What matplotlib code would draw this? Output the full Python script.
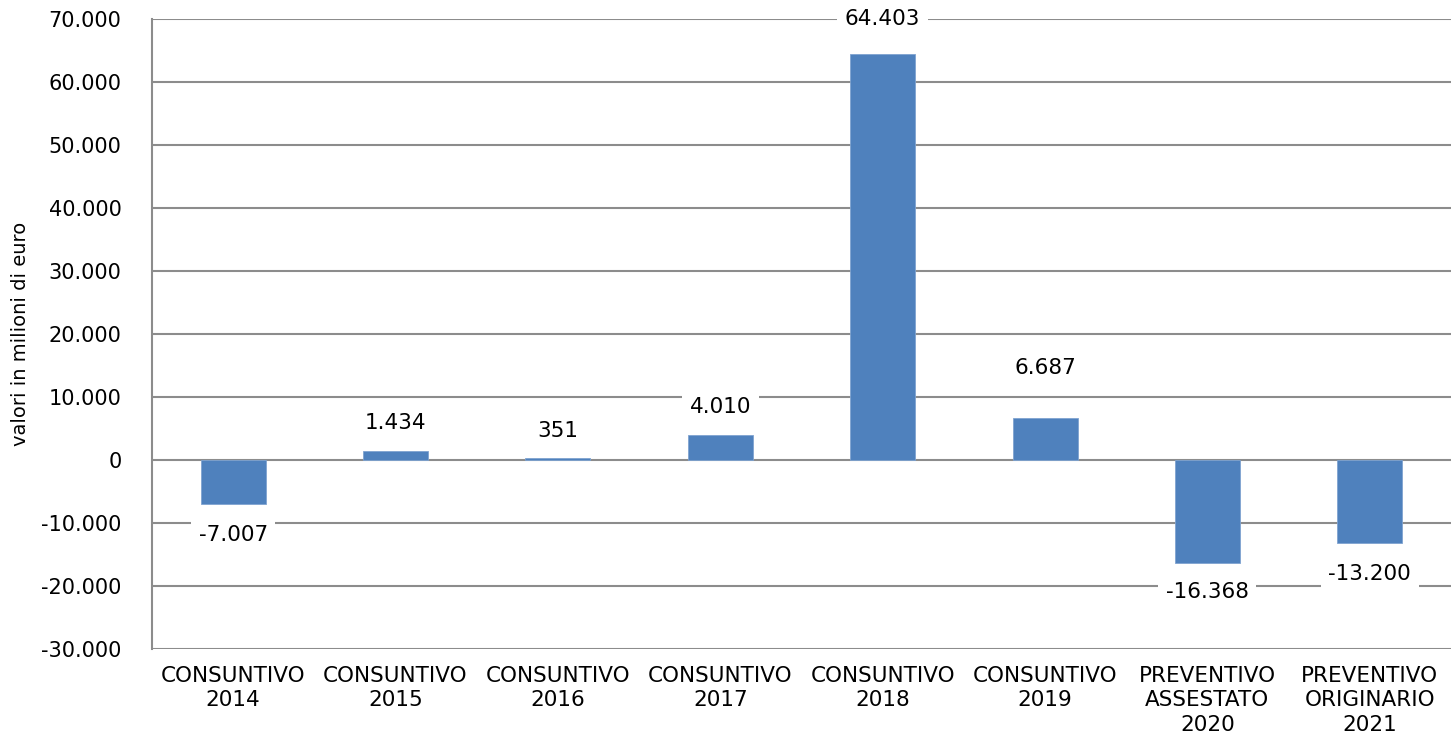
import matplotlib
matplotlib.use("Agg")
import matplotlib.pyplot as plt
import numpy as np

# categories and values (millions of euro)
categorie = ["CONSUNTIVO\n2014", "CONSUNTIVO\n2015", "CONSUNTIVO\n2016",
             "CONSUNTIVO\n2017", "CONSUNTIVO\n2018", "CONSUNTIVO\n2019",
             "PREVENTIVO\nASSESTATO\n2020", "PREVENTIVO\nORIGINARIO\n2021"]
valori = [-7007, 1434, 351, 4010, 64403, 6687, -16368, -13200]
etichette = ["-7.007", "1.434", "351", "4.010", "64.403", "6.687", "-16.368", "-13.200"]
y_ticks = list(range(-30000, 70001, 10000))

# label offsets in points (from bar end)
offsets = [22, 20, 19, 20, 26, 36, 21, 22]

BAR = "#4F81BD"
GRID = "#8C8C8C"

fig = plt.figure(figsize=(14.52, 7.43), dpi=100)
ax = fig.add_axes([152 / 1452, 1 - 649 / 743, 1299 / 1452, 630 / 743])

x = np.arange(len(categorie))
ax.bar(x, valori, width=0.4, color=BAR, edgecolor="#7FA3D0", linewidth=0.6, zorder=3)

ax.set_ylim(-30000, 70000)
ax.set_xlim(-0.5, len(categorie) - 0.5)
ax.set_yticks(y_ticks)
ax.set_yticklabels([f"{v:,}".replace(",", ".") for v in y_ticks], fontsize=15)
ax.yaxis.grid(True, color=GRID, linewidth=1.5, zorder=0)
ax.set_axisbelow(True)
ax.tick_params(axis="y", length=0, pad=22)
ax.tick_params(axis="x", length=0, pad=12)
ax.set_xticks(x)
ax.set_xticklabels(categorie, fontsize=15.5, linespacing=1.3)

for s in ["top", "right", "bottom"]:
    ax.spines[s].set_visible(False)
ax.spines["left"].set_color(GRID)
ax.spines["left"].set_linewidth(1.5)

ax.set_ylabel("valori in milioni di euro", fontsize=14, labelpad=8)

for xi, v, lab, off in zip(x, valori, etichette, offsets):
    yv = v
    d = off if v >= 0 else -off
    if v > 60000:
        yv = 70000
        d = 0
    ax.annotate(lab, (xi, yv), xytext=(0, d), textcoords="offset points",
                ha="center", va="center", fontsize=15.5, zorder=5,
                bbox=dict(boxstyle="square,pad=0.35", fc="white", ec="none"))

fig.savefig("out.png", dpi=100)
